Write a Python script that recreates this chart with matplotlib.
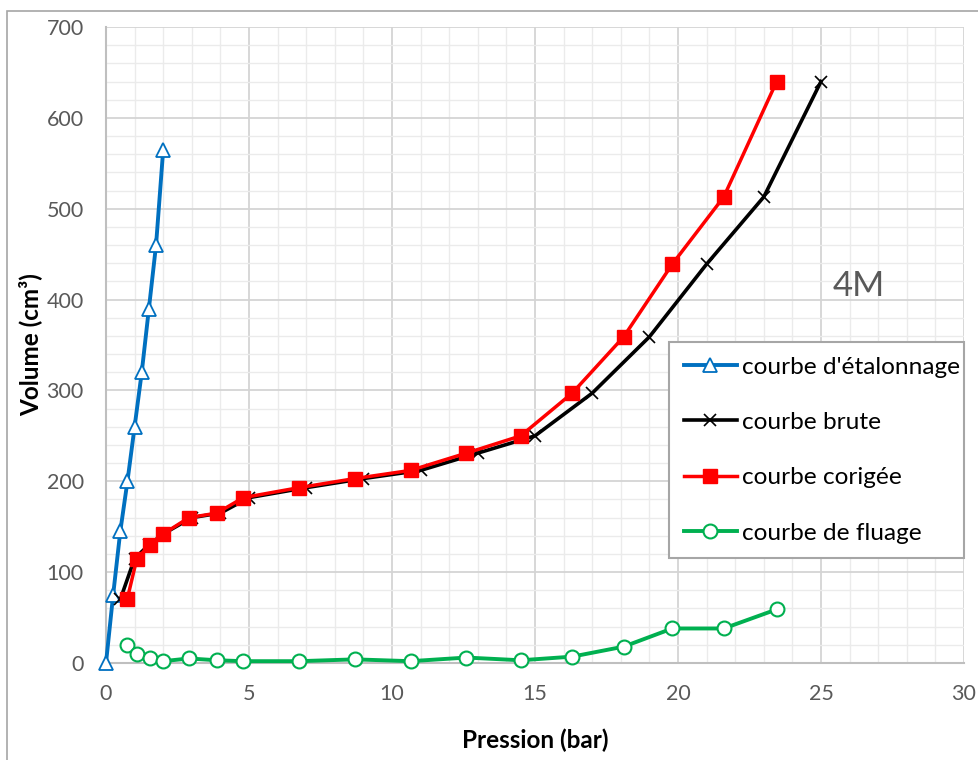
import matplotlib
matplotlib.use('Agg')
import matplotlib.pyplot as plt
from matplotlib.patches import Rectangle
from matplotlib.ticker import MultipleLocator

plt.rcParams['font.family'] = ['Lato', 'DejaVu Sans']

# values
calib_p = [0, 0.25, 0.5, 0.75, 1.0, 1.25, 1.5, 1.75, 2.0]
calib_v = [0, 75, 145, 200, 260, 320, 390, 460, 565]

brute_p = [0.5, 1, 1.5, 2, 3, 4, 5, 7, 9, 11, 13, 15, 17, 19, 21, 23, 25]
brute_v = [70, 115, 130, 142, 160, 165, 182, 193, 203, 212, 231, 250, 297, 359, 439, 513, 640]

corr_p = [0.74, 1.08, 1.54, 2.0, 2.9, 3.88, 4.8, 6.75, 8.7, 10.65, 12.6, 14.5,
          16.3, 18.1, 19.8, 21.6, 23.45]
corr_v = [70, 115, 130, 142, 160, 165, 182, 193, 203, 212, 231, 250, 297, 359, 439, 513, 640]

fluage_v = [20, 10, 5, 2, 5, 3, 2, 2, 4, 2, 6, 3, 7, 18, 38, 38, 59]

x_ticks = [0, 5, 10, 15, 20, 25, 30]
y_ticks = [0, 100, 200, 300, 400, 500, 600, 700]

fig = plt.figure(figsize=(9.79, 7.6), dpi=100)
ax = fig.add_axes([106 / 979, 1 - 663 / 760, 858 / 979, 636 / 760])

# outer chart border
fig.patches.append(Rectangle((7 / 979, -0.02), 1.0, 1 - 11 / 760 + 0.02,
                             transform=fig.transFigure, fill=False,
                             edgecolor='#a6a6a6', linewidth=1.2))

ax.plot(calib_p, calib_v, color='#0070C0', lw=2.8, marker='^', ms=10,
        mfc='white', mec='#0070C0', mew=1.3, label="courbe d'étalonnage",
        clip_on=False, zorder=3)
ax.plot(brute_p, brute_v, color='black', lw=2.6, marker='x', ms=9,
        mew=1.2, label='courbe brute', zorder=4)
ax.plot(corr_p, corr_v, color='#FF0000', lw=2.5, marker='s', ms=10,
        mfc='#FF0000', mec='#FF0000', label='courbe corigée', zorder=5)
ax.plot(corr_p, fluage_v, color='#00B050', lw=2.8, marker='o', ms=10,
        mfc='white', mec='#00B050', mew=1.5, label='courbe de fluage',
        clip_on=False, zorder=6)

ax.set_xlim(0, 30)
ax.set_ylim(0, 700)
ax.set_xticks(x_ticks)
ax.set_yticks(y_ticks)
ax.xaxis.set_minor_locator(MultipleLocator(1))
ax.yaxis.set_minor_locator(MultipleLocator(20))
ax.grid(True, which='major', color='#d4d4d4', lw=1.3)
ax.grid(True, which='minor', color='#ebebeb', lw=1.0)
ax.set_axisbelow(True)

for side in ['top', 'right']:
    ax.spines[side].set_visible(False)
for side in ['left', 'bottom']:
    ax.spines[side].set_color('#bfbfbf')
    ax.spines[side].set_linewidth(1.5)

ax.tick_params(which='both', length=0, labelsize=15.5, labelcolor='#595959')
ax.tick_params(axis='x', pad=15)
ax.tick_params(axis='y', pad=16)

ax.set_xlabel('Pression (bar)', fontsize=17.5, fontweight='bold')
ax.xaxis.set_label_coords(0.5, -0.121)
ax.xaxis.label.set_va('center')
ax.set_ylabel('Volume (cm³)', fontsize=17.5, fontweight='bold')
ax.yaxis.set_label_coords(-0.0886, 0.5)
ax.yaxis.label.set_va('center')

ax.text(25.4, 415, '4M', fontsize=25, color='#595959', ha='left', va='center')

leg = ax.legend(loc='upper left', bbox_to_anchor=(0.656, 0.17, 0.344, 0.335),
                mode='expand', borderaxespad=0, numpoints=1, fontsize=17.6,
                fancybox=False, framealpha=1, edgecolor='#a6a6a6',
                handlelength=2.2, handletextpad=0.2, labelspacing=1.4,
                borderpad=0.6)
leg.get_frame().set_linewidth(1.5)
leg.set_zorder(10)

fig.savefig('out.png', dpi=100)
